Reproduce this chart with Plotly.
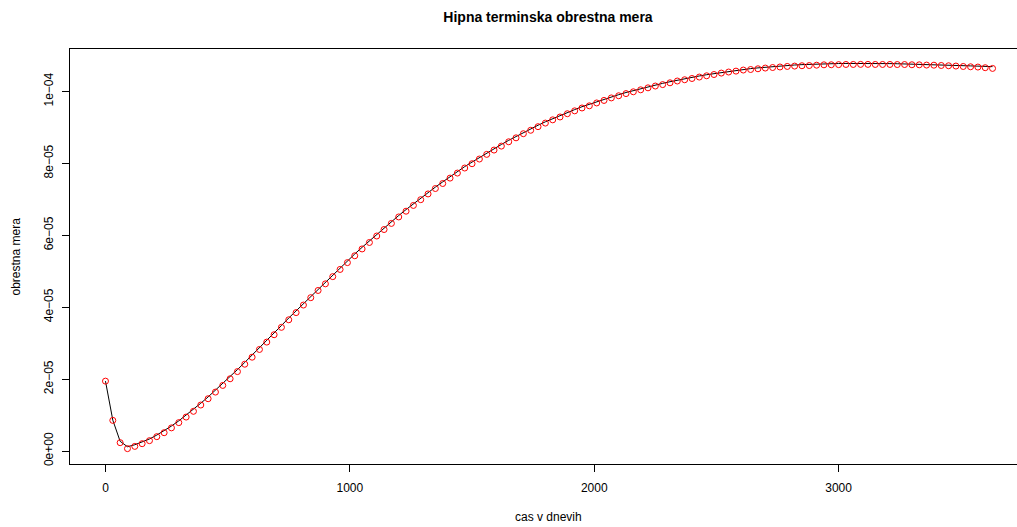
import plotly.graph_objects as go

# Days from today, one observation every 30 days
days = [30 * i for i in range(122)]

# Observed instantaneous forward rate (in units of 1e-6)
rate_obs_e6 = [
    19.44, 8.53, 2.33, 0.67, 1.30, 2.05, 2.89, 4.00, 5.10, 6.45,
    7.90, 9.45, 11.05, 12.80, 14.55, 16.40, 18.25, 20.10, 22.10, 24.15,
    26.10, 28.25, 30.30, 32.35, 34.40, 36.50, 38.50, 40.60, 42.65, 44.65,
    46.50, 48.50, 50.50, 52.40, 54.30, 56.20, 58.00, 59.80, 61.60, 63.30,
    65.10, 66.70, 68.30, 69.90, 71.50, 73.00, 74.40, 75.90, 77.30, 78.70,
    79.90, 81.20, 82.50, 83.70, 84.80, 86.00, 87.10, 88.25, 89.20, 90.20,
    91.20, 92.10, 92.90, 93.80, 94.60, 95.40, 96.00, 96.80, 97.50, 98.20,
    98.80, 99.40, 99.90, 100.45, 101.00, 101.50, 101.90, 102.40, 102.90, 103.25,
    103.60, 104.00, 104.35, 104.70, 105.10, 105.40, 105.65, 105.95, 106.10, 106.30,
    106.50, 106.65, 106.80, 106.95, 107.05, 107.15, 107.20, 107.30, 107.40, 107.42,
    107.45, 107.50, 107.50, 107.52, 107.52, 107.50, 107.50, 107.50, 107.48, 107.48,
    107.42, 107.40, 107.33, 107.30, 107.22, 107.14, 107.06, 106.94, 106.86, 106.78,
    106.60, 106.40,
]

# Fitted forward-rate curve (in units of 1e-6)
rate_fit_e6 = [
    19.44, 8.60, 2.70, 1.20, 1.75, 2.50, 3.35, 4.45, 5.60, 6.95,
    8.40, 9.95, 11.55, 13.30, 15.05, 16.90, 18.75, 20.65, 22.65, 24.65,
    26.65, 28.75, 30.80, 32.85, 34.90, 37.00, 39.00, 41.10, 43.10, 45.10,
    47.00, 49.00, 50.95, 52.90, 54.80, 56.65, 58.45, 60.25, 62.05, 63.75,
    65.50, 67.15, 68.75, 70.35, 71.90, 73.40, 74.85, 76.30, 77.70, 79.10,
    80.35, 81.60, 82.90, 84.10, 85.25, 86.40, 87.50, 88.60, 89.60, 90.60,
    91.55, 92.45, 93.30, 94.15, 94.95, 95.75, 96.45, 97.15, 97.85, 98.50,
    99.10, 99.70, 100.25, 100.80, 101.30, 101.80, 102.25, 102.70, 103.15, 103.55,
    103.90, 104.30, 104.65, 104.95, 105.30, 105.60, 105.85, 106.10, 106.35, 106.55,
    106.75, 106.95, 107.10, 107.25, 107.35, 107.45, 107.55, 107.62, 107.68, 107.72,
    107.76, 107.78, 107.80, 107.80, 107.80, 107.78, 107.76, 107.74, 107.70, 107.66,
    107.62, 107.56, 107.50, 107.45, 107.40, 107.34, 107.27, 107.18, 107.10, 107.03,
    106.96, 106.90,
]

rate_obs = [v * 1e-6 for v in rate_obs_e6]
rate_fit = [v * 1e-6 for v in rate_fit_e6]

x_ticks = [0, 1000, 2000, 3000]
y_ticks = [0, 2e-5, 4e-5, 6e-5, 8e-5, 1e-4]
y_tick_text = ["0e+00", "2e\u221205", "4e\u221205", "6e\u221205", "8e\u221205", "1e\u221204"]

FONT = "Liberation Sans, Arial, Helvetica, sans-serif"

fig = go.Figure()
fig.add_trace(go.Scatter(
    x=days, y=rate_fit, mode="lines",
    line=dict(color="black", width=1),
    hoverinfo="skip", showlegend=False,
))
fig.add_trace(go.Scatter(
    x=days, y=rate_obs, mode="markers",
    marker=dict(symbol="circle-open", size=6, color="red", line=dict(width=1, color="red")),
    showlegend=False,
))

fig.update_layout(
    width=1017, height=527,
    margin=dict(l=70, r=0, t=49, b=63, pad=0),
    paper_bgcolor="white", plot_bgcolor="white",
    font=dict(family=FONT, size=12, color="black"),
    title=dict(
        text="<b>Hipna terminska obrestna mera</b>",
        font=dict(family=FONT, size=14, color="black"),
        x=548 / 1017, xanchor="center", xref="container",
        y=1 - 17 / 527, yanchor="middle", yref="container",
    ),
    xaxis=dict(
        range=[-145.2, 3730], tickmode="array", tickvals=x_ticks,
        ticks="outside", ticklen=7, tickcolor="black", tickwidth=1,
        showline=True, linecolor="black", linewidth=1, mirror=True,
        showgrid=False, zeroline=False, ticklabelstandoff=6,
        tickfont=dict(family=FONT, size=12),
    ),
    yaxis=dict(
        range=[-3.6e-6, 1.118e-4], tickmode="array", tickvals=y_ticks, ticktext=y_tick_text,
        ticks="outside", ticklen=7, tickcolor="black", tickwidth=1,
        showline=True, linecolor="black", linewidth=1, mirror=False,
        showgrid=False, zeroline=False, tickangle=-90, ticklabelstandoff=4,
        tickfont=dict(family=FONT, size=12),
    ),
    annotations=[
        dict(text="cas v dnevih", xref="paper", yref="paper",
             x=(548 - 70) / 947, y=-(517 - 464) / 415, xanchor="center", yanchor="middle",
             showarrow=False, font=dict(family=FONT, size=12)),
        dict(text="obrestna mera", xref="paper", yref="paper",
             x=-(70 - 15) / 947, y=0.5, xanchor="center", yanchor="middle", textangle=-90,
             showarrow=False, font=dict(family=FONT, size=12)),
    ],
)

fig.write_html("out.html")
